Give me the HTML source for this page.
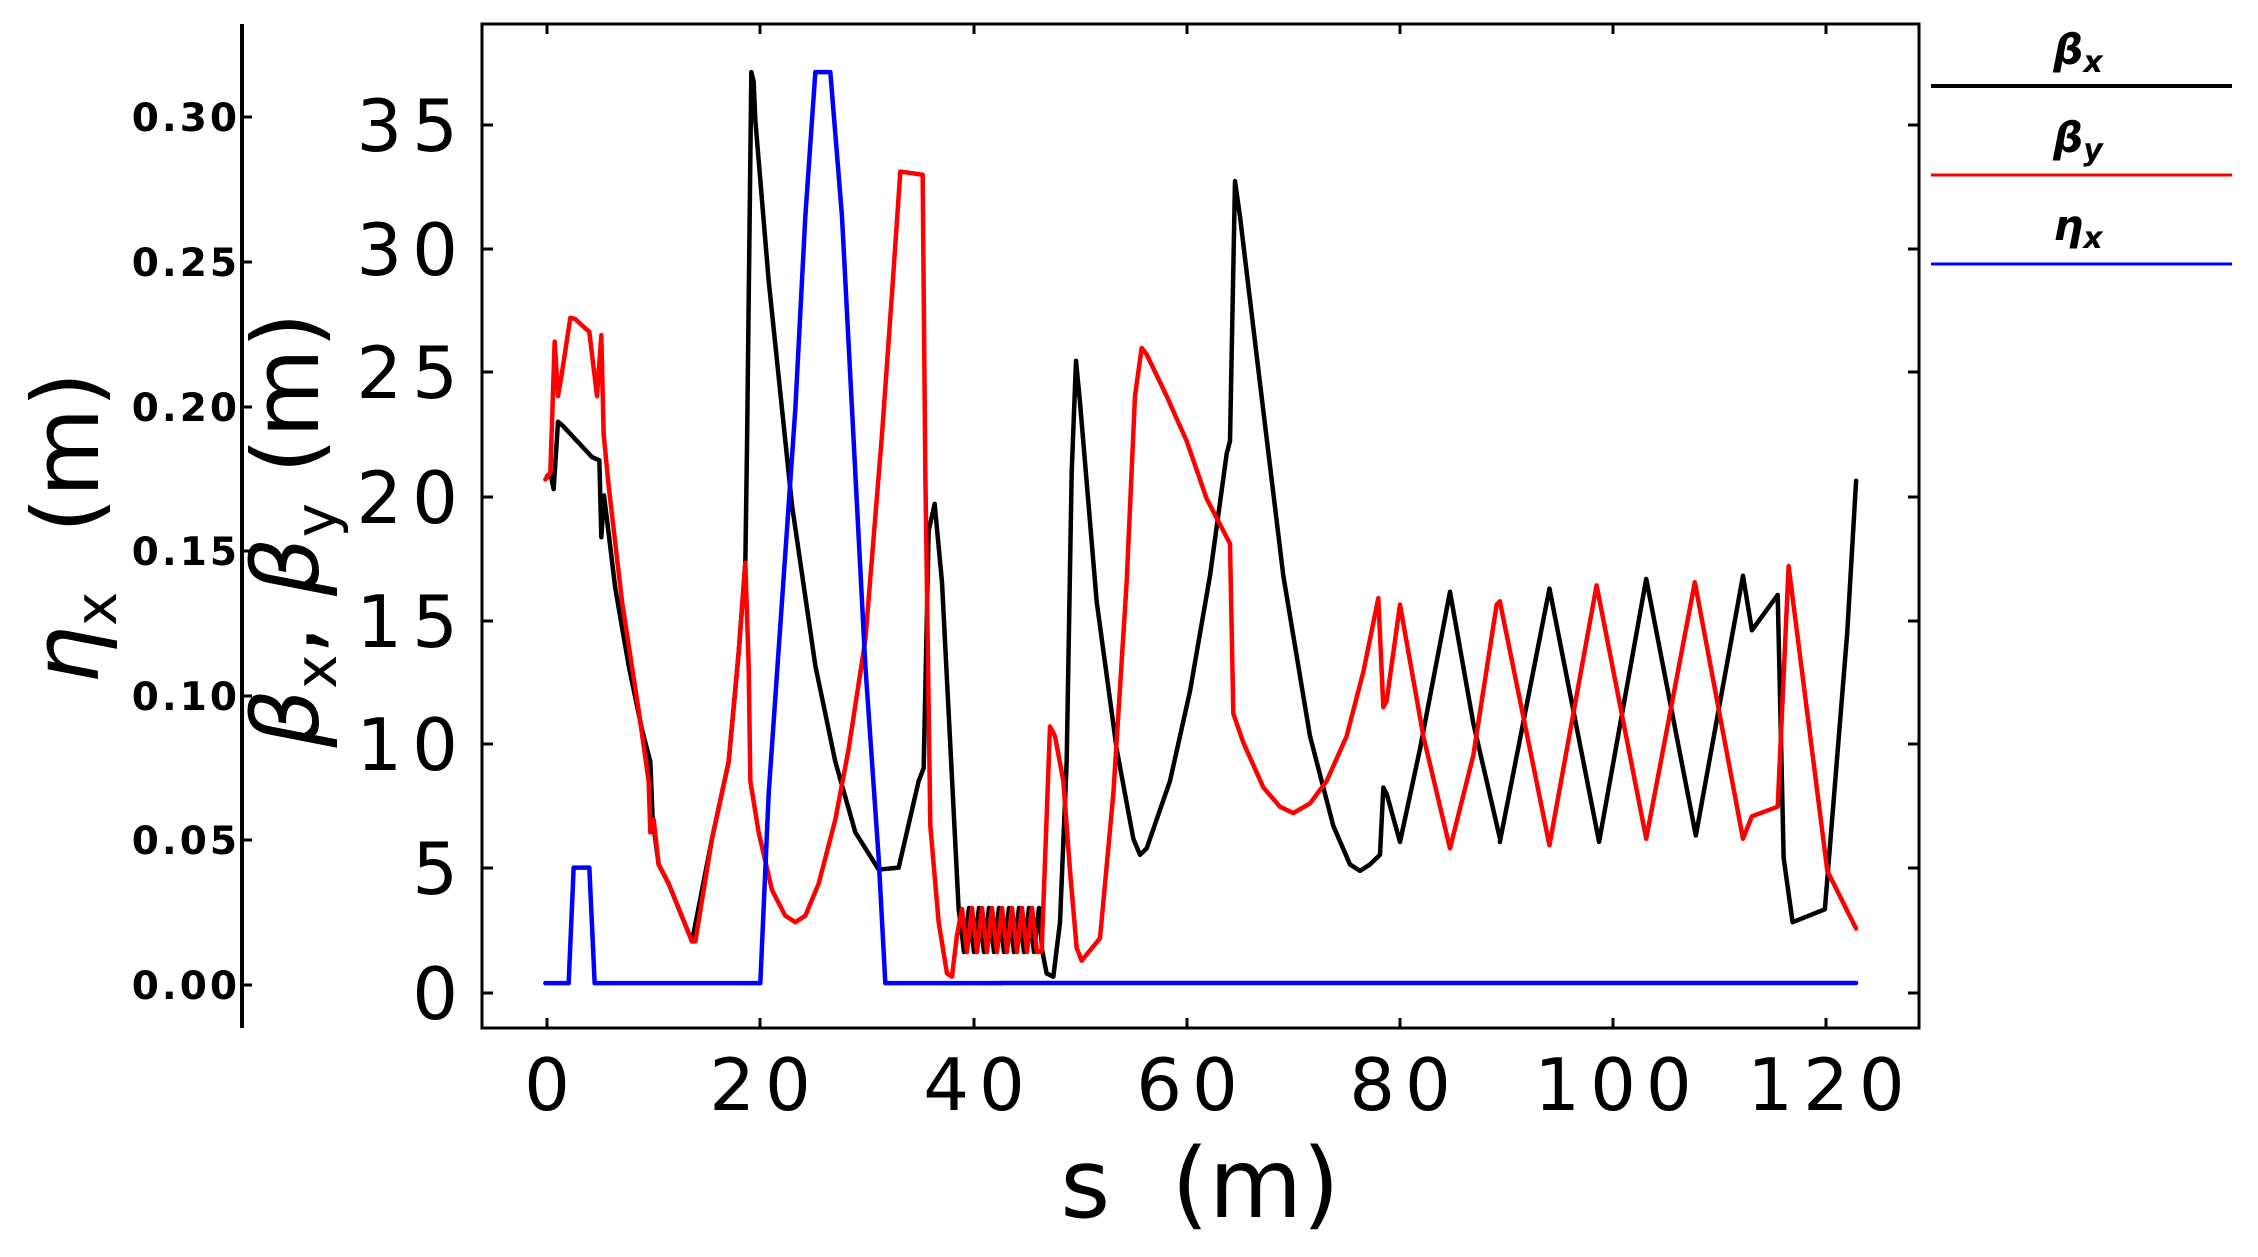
<!DOCTYPE html>
<html><head><meta charset="utf-8"><style>
html,body{margin:0;padding:0;background:#fff;}
svg{display:block;}
text{font-family:"DejaVu Sans","Liberation Sans",sans-serif;fill:#000;}
</style></head><body>
<svg width="2258" height="1257" viewBox="0 0 2258 1257" xmlns="http://www.w3.org/2000/svg">
<rect width="2258" height="1257" fill="#fff"/>
<!-- left eta axis -->
<line x1="242" y1="24" x2="242" y2="1028" stroke="#000" stroke-width="4"/>
<g stroke="#000" stroke-width="3">
<line x1="242" y1="985" x2="252" y2="985"/><line x1="242" y1="840" x2="252" y2="840"/>
<line x1="242" y1="696" x2="252" y2="696"/><line x1="242" y1="551" x2="252" y2="551"/>
<line x1="242" y1="407" x2="252" y2="407"/><line x1="242" y1="262" x2="252" y2="262"/>
<line x1="242" y1="117" x2="252" y2="117"/>
</g>
<g font-size="39" font-weight="bold" letter-spacing="3" text-anchor="end">
<text x="240" y="999">0.00</text><text x="240" y="854">0.05</text>
<text x="240" y="710">0.10</text><text x="240" y="565">0.15</text>
<text x="240" y="421">0.20</text><text x="240" y="276">0.25</text>
<text x="240" y="131">0.30</text>
</g>
<!-- plot box -->
<rect x="482" y="24" width="1437" height="1004" fill="none" stroke="#000" stroke-width="3"/>
<g stroke="#000" stroke-width="3">
<line x1="482" y1="993" x2="493" y2="993"/><line x1="482" y1="868" x2="493" y2="868"/>
<line x1="482" y1="744" x2="493" y2="744"/><line x1="482" y1="621" x2="493" y2="621"/>
<line x1="482" y1="497" x2="493" y2="497"/><line x1="482" y1="372" x2="493" y2="372"/>
<line x1="482" y1="249" x2="493" y2="249"/><line x1="482" y1="125" x2="493" y2="125"/>
<line x1="1919" y1="993" x2="1908" y2="993"/><line x1="1919" y1="868" x2="1908" y2="868"/>
<line x1="1919" y1="744" x2="1908" y2="744"/><line x1="1919" y1="621" x2="1908" y2="621"/>
<line x1="1919" y1="497" x2="1908" y2="497"/><line x1="1919" y1="372" x2="1908" y2="372"/>
<line x1="1919" y1="249" x2="1908" y2="249"/><line x1="1919" y1="125" x2="1908" y2="125"/>
<line x1="547" y1="24" x2="547" y2="34"/><line x1="760" y1="24" x2="760" y2="34"/>
<line x1="974" y1="24" x2="974" y2="34"/><line x1="1187" y1="24" x2="1187" y2="34"/>
<line x1="1400" y1="24" x2="1400" y2="34"/><line x1="1613" y1="24" x2="1613" y2="34"/>
<line x1="1826" y1="24" x2="1826" y2="34"/>
<line x1="547" y1="1028" x2="547" y2="1018"/><line x1="760" y1="1028" x2="760" y2="1018"/>
<line x1="974" y1="1028" x2="974" y2="1018"/><line x1="1187" y1="1028" x2="1187" y2="1018"/>
<line x1="1400" y1="1028" x2="1400" y2="1018"/><line x1="1613" y1="1028" x2="1613" y2="1018"/>
<line x1="1826" y1="1028" x2="1826" y2="1018"/>
</g>
<g font-size="72" letter-spacing="10" text-anchor="end">
<text x="468" y="1019">0</text><text x="468" y="894">5</text>
<text x="468" y="770">10</text><text x="468" y="647">15</text>
<text x="468" y="523">20</text><text x="468" y="398">25</text>
<text x="468" y="275">30</text><text x="468" y="151">35</text>
</g>
<g font-size="72" letter-spacing="10" text-anchor="middle">
<text x="552" y="1110">0</text><text x="765" y="1110">20</text>
<text x="979" y="1110">40</text><text x="1192" y="1110">60</text>
<text x="1405" y="1110">80</text><text x="1618" y="1110">100</text>
<text x="1831" y="1110">120</text>
</g>
<text x="1200" y="1217" font-size="96" text-anchor="middle" xml:space="preserve">s  (m)</text>
<text transform="translate(98,528) rotate(-90)" font-size="92" text-anchor="middle" xml:space="preserve"><tspan font-style="italic">η</tspan><tspan font-size="58" dy="18">x</tspan><tspan dy="-18">  (m)</tspan></text>
<text transform="translate(318,530) rotate(-90)" font-size="92" text-anchor="middle" xml:space="preserve"><tspan font-style="italic">β</tspan><tspan font-size="58" dy="18">x</tspan><tspan dy="-18">, </tspan><tspan font-style="italic">β</tspan><tspan font-size="58" dy="18">y</tspan><tspan dy="-18"> (m)</tspan></text>
<!-- legend -->
<line x1="1931" y1="86" x2="2232" y2="86" stroke="#000" stroke-width="4"/>
<line x1="1931" y1="175" x2="2232" y2="175" stroke="#f00" stroke-width="3"/>
<line x1="1931" y1="264" x2="2232" y2="264" stroke="#00f" stroke-width="3"/>
<g font-size="42" font-style="italic" font-weight="bold" text-anchor="middle">
<text x="2078" y="64">β<tspan font-size="30" dy="8">x</tspan></text>
<text x="2078" y="152">β<tspan font-size="30" dy="8">y</tspan></text>
<text x="2078" y="240">η<tspan font-size="30" dy="8">x</tspan></text>
</g>
<!-- data -->
<g fill="none" stroke-width="4.5" stroke-linejoin="round" stroke-linecap="round">
<g transform="translate(482,24) scale(0.33333,0.64155)">
<polyline vector-effect="non-scaling-stroke" stroke="#000" points="195,705 205,700 215,725 228,620 240,625 330,675 352,680 358,800 366,735 372,760 400,880 440,1000 480,1100 500,1140 505,1150 512,1240 530,1310 560,1340 630,1430 690,1270 740,1150 770,980 790,840 795,660 808,75 815,90 820,150 860,400 930,750 1000,1000 1060,1150 1120,1260 1190,1318 1250,1315 1310,1180 1325,1160 1340,790 1358,748 1380,870 1430,1380 1440,1420"/>
<polyline vector-effect="non-scaling-stroke" stroke="#f00" points="190,710 205,700 218,495 228,580 238,550 265,458 280,460 322,480 345,580 358,485 365,640 380,720 420,900 470,1070 500,1180 505,1260 515,1240 530,1310 560,1340 630,1430 640,1430 690,1270 740,1150 770,980 790,840 800,1000 805,1180 830,1260 870,1350 910,1390 940,1400 970,1390 1010,1340 1060,1240 1100,1130 1150,960 1200,640 1230,420 1255,230 1322,235 1330,700 1345,1250 1370,1400 1395,1480 1410,1485 1425,1420 1440,1380"/>
</g>
<polyline stroke="#000" points="962,935 964,952 969,908 974,952 979,908 984,952 989,908 994,952 999,908 1004,952 1009,908 1014,952 1019,908 1024,952 1029,908 1034,952 1039,908 1042,948"/>
<polyline stroke="#f00" points="962,909 967,952 972,908 977,952 982,908 987,952 992,908 997,952 1002,908 1007,952 1012,908 1017,952 1022,908 1027,952 1032,908 1037,952 1042,951"/>
<g transform="translate(1000,24) scale(0.33333,0.64155)">
<polyline vector-effect="non-scaling-stroke" stroke="#000" points="125,1440 140,1480 160,1485 180,1400 200,1150 215,700 228,525 240,590 290,900 350,1130 400,1270 420,1295 440,1285 510,1180 570,1040 630,860 680,670 690,650 705,245 720,300 780,560 850,860 930,1110 1000,1250 1050,1310 1080,1320 1110,1310 1140,1295 1150,1190 1160,1200 1200,1275 1260,1130 1350,885 1420,1090 1500,1270"/>
<polyline vector-effect="non-scaling-stroke" stroke="#f00" points="125,1445 150,1095 165,1110 190,1180 210,1320 230,1440 245,1460 300,1425 340,1200 380,870 405,580 425,505 440,515 500,580 560,650 620,740 660,780 690,810 700,1075 730,1120 790,1190 840,1220 880,1230 930,1215 980,1180 1040,1110 1090,1010 1135,895 1150,1065 1160,1055 1200,905 1270,1110 1350,1285 1420,1140 1490,905 1500,900"/>
</g>
<g transform="translate(1480,24) scale(0.49618,0.64155)">
<polyline vector-effect="non-scaling-stroke" stroke="#000" points="40,1275 140,880 240,1275 335,865 435,1265 530,860 548,945 600,890 612,1300 630,1400 695,1380 740,950 758,712"/>
<polyline vector-effect="non-scaling-stroke" stroke="#f00" points="40,900 140,1280 235,875 335,1270 433,870 530,1270 548,1235 600,1220 622,845 700,1320 758,1410"/>
</g>
<g transform="translate(482,24) scale(0.33333,0.64155)">
<polyline vector-effect="non-scaling-stroke" stroke="#00f" points="190,1495 260,1495 275,1315 322,1315 338,1495 835,1495 860,1200 900,900 940,600 970,300 1000,75 1045,75 1080,300 1110,600 1150,1000 1190,1300 1210,1495 1560,1495"/>
</g>
<line x1="1000" y1="983" x2="1856" y2="983" stroke="#00f" stroke-width="4.5"/>
</g>
</svg>
</body></html>
